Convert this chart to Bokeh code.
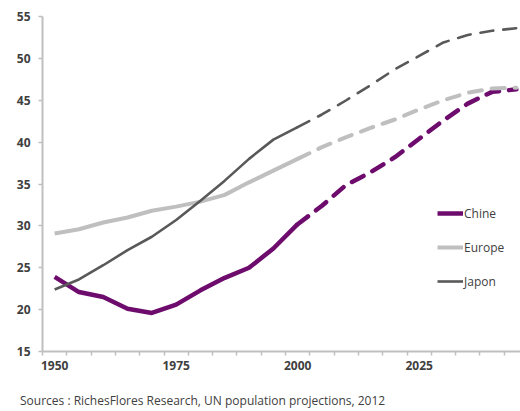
from bokeh.plotting import figure
from bokeh.models import Range1d, FixedTicker, Legend, LegendItem, Div
from bokeh.layouts import column
from bokeh.embed import file_html
from bokeh.resources import INLINE

years_hist = [1950, 1955, 1960, 1965, 1970, 1975, 1980, 1985, 1990, 1995, 2000]
years_proj = [2000, 2005, 2010, 2015, 2020, 2025, 2030, 2035, 2040, 2045]

chine_hist = [23.9, 22.1, 21.5, 20.1, 19.6, 20.6, 22.3, 23.8, 25.0, 27.3, 30.2]
chine_proj = [30.2, 32.4, 34.9, 36.4, 38.2, 40.4, 42.6, 44.6, 46.0, 46.3]
europe_hist = [29.1, 29.6, 30.4, 31.0, 31.8, 32.3, 32.9, 33.7, 35.2, 36.6, 38.0]
europe_proj = [38.0, 39.4, 40.6, 41.7, 42.7, 43.9, 45.0, 45.9, 46.4, 46.5]
japon_hist = [22.4, 23.6, 25.3, 27.1, 28.7, 30.7, 33.0, 35.4, 38.0, 40.3, 41.8]
japon_proj = [41.8, 43.3, 45.0, 46.8, 48.7, 50.3, 51.9, 52.8, 53.3, 53.6]

x_labels = [1950, 1975, 2000, 2025]
y_ticks = [15, 20, 25, 30, 35, 40, 45, 50, 55]
source_text = "Sources : RichesFlores Research, UN population projections, 2012"

FONT = "Open Sans"
AXIS_GRAY = "#bfbfbf"
TEXT_COL = "#404040"
C_CHINE = "#6e0c6e"
C_EUROPE = "#bfbfbf"
C_JAPON = "#595959"

p = figure(width=520, height=385, output_backend="svg", toolbar_location=None,
           x_range=Range1d(1947.5, 2045.85), y_range=Range1d(15, 55),
           min_border_left=42, min_border_right=0, min_border_top=16, min_border_bottom=34)
p.outline_line_color = None
p.xgrid.grid_line_color = None
p.ygrid.grid_line_color = None
p.background_fill_color = "white"
p.border_fill_color = "white"

series = [
    ("Chine", chine_hist, chine_proj, C_CHINE, 4.5),
    ("Europe", europe_hist, europe_proj, C_EUROPE, 4.0),
    ("Japon", japon_hist, japon_proj, C_JAPON, 2.6),
]
items = []
for name, hist, proj, col, w in series:
    r = p.line(years_hist, hist, line_color=col, line_width=w, line_join="round")
    p.line(years_proj, proj, line_color=col, line_width=w, line_dash="13 10", line_cap="round")
    items.append(LegendItem(label=name, renderers=[r]))

legend = Legend(items=items, location=(395, 60), glyph_width=26, glyph_height=20,
                label_height=20, spacing=14, padding=0, margin=0, label_standoff=1,
                label_text_font=FONT, label_text_font_size="12px", label_text_color=TEXT_COL,
                border_line_color=None, background_fill_alpha=0)
p.add_layout(legend)

# x axis
minor = [1947.5 + 5 * k for k in range(21)]
p.xaxis.ticker = FixedTicker(ticks=x_labels, minor_ticks=minor)
p.xaxis.major_tick_line_color = None
p.xaxis.minor_tick_line_color = AXIS_GRAY
p.xaxis.minor_tick_line_width = 1.5
p.xaxis.minor_tick_out = 4
p.xaxis.minor_tick_in = 0
p.xaxis.major_tick_out = 4
p.xaxis.major_label_standoff = 5

# y axis
p.yaxis.ticker = FixedTicker(ticks=y_ticks)
p.yaxis.major_tick_line_color = AXIS_GRAY
p.yaxis.major_tick_line_width = 1.5
p.yaxis.major_tick_out = 4
p.yaxis.major_tick_in = 0
p.yaxis.minor_tick_line_color = None
p.yaxis.major_label_standoff = 8

for ax in (p.xaxis, p.yaxis):
    ax.axis_line_color = AXIS_GRAY
    ax.axis_line_width = 2
    ax.major_label_text_font = FONT
    ax.major_label_text_font_size = "12px"
    ax.major_label_text_font_style = "bold"
    ax.major_label_text_color = TEXT_COL

note = Div(text=source_text, width=500, height=20, margin=(6, 0, 0, 20),
           styles={"font-family": FONT, "font-size": "12px", "color": TEXT_COL,
                   "line-height": "20px", "white-space": "nowrap"})

layout = column(p, note, spacing=0)
open("out.html", "w").write(file_html(layout, INLINE))
